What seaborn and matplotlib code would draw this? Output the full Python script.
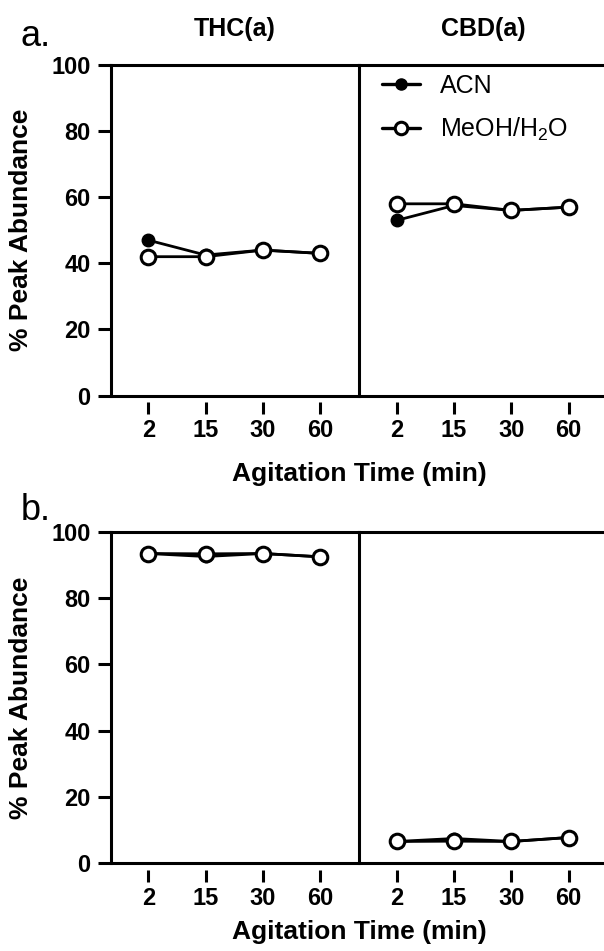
import matplotlib
matplotlib.use("Agg")
import matplotlib.pyplot as plt
import seaborn as sns
import pandas as pd
from matplotlib.lines import Line2D

# ---------------- data ----------------
times = ["2", "15", "30", "60"]
thc_a_acn = [47, 42.5, 44, 43]
thc_a_meoh = [42, 42, 44, 43]
cbd_a_acn = [53, 57.5, 56, 57]
cbd_a_meoh = [58, 58, 56, 57]
thc_b_acn = [93.5, 92.6, 93.5, 92.5]
thc_b_meoh = [93.5, 93.4, 93.5, 92.5]
cbd_b_acn = [6.5, 7.4, 6.5, 7.7]
cbd_b_meoh = [6.5, 6.6, 6.5, 7.7]
yticks = [0, 20, 40, 60, 80, 100]
panel_titles = ["THC(a)", "CBD(a)"]
solvent_labels = ["ACN", "MeOH/H$_\\mathregular{2}$O"]
panel_letters = ["a.", "b."]
xlabel = "Agitation Time (min)"
ylabel = "% Peak Abundance"

sns.set_style("white")
plt.rcParams["font.family"] = ["Liberation Sans", "DejaVu Sans"]
plt.rcParams["mathtext.fontset"] = "custom"
plt.rcParams["mathtext.rm"] = "Liberation Sans"
for k in ["text.color", "axes.labelcolor", "xtick.color", "ytick.color",
          "axes.edgecolor"]:
    plt.rcParams[k] = "black"

W, H = 604, 951
fig = plt.figure(figsize=(W / 100, H / 100), dpi=100)

LW_SPINE = 2.2
AX_W = 248.5
LW_DATA = 2.0
MS_OPEN = 10.5
MS_FILL = 9


def fx(px):
    return px / W


def fy(px):
    return 1 - px / H


def draw(ax, acn, meoh):
    df_acn = pd.DataFrame({"time": times, "value": acn})
    df_meoh = pd.DataFrame({"time": times, "value": meoh})
    sns.lineplot(data=df_acn, x="time", y="value", ax=ax, sort=False,
                 color="black", lw=LW_DATA, marker="o", ms=MS_FILL, mfc="black",
                 mec="black", mew=1, legend=False, zorder=3)
    sns.lineplot(data=df_meoh, x="time", y="value", ax=ax, sort=False,
                 color="black", lw=LW_DATA, marker="o", ms=MS_OPEN, mfc="white",
                 mec="black", mew=2.2, legend=False, zorder=4)
    ax.set_xticks(range(len(times)))
    ax.set_xticklabels(times)
    ax.set_xlim(-0.66, 3.68)
    ax.set_ylim(0, 100)
    ax.set_yticks(yticks)
    for s in ["top", "left"]:
        ax.spines[s].set_visible(True)
        ax.spines[s].set_linewidth(LW_SPINE)
        ax.spines[s].set_color("black")
    ax.spines["right"].set_visible(False)
    ax.spines["bottom"].set_position(("outward", 5))
    ax.spines["bottom"].set_visible(False)
    ax.axhline(0, color="black", lw=LW_SPINE, clip_on=False, zorder=5)
    ax.tick_params(axis="x", direction="out", length=8.6, width=LW_SPINE,
                   pad=3.5, labelsize=17, color="black", bottom=True)
    ax.tick_params(axis="y", direction="out", length=9.4, width=LW_SPINE,
                   pad=5, labelsize=17, color="black", left=True)
    for lab in ax.get_xticklabels() + ax.get_yticklabels():
        lab.set_fontweight("bold")
    ax.set_xlabel("")
    ax.set_ylabel("")


panels = [
    (65, 395.5, 474, 46, thc_a_acn, thc_a_meoh, cbd_a_acn, cbd_a_meoh),
    (532, 863, 932, 520, thc_b_acn, thc_b_meoh, cbd_b_acn, cbd_b_meoh),
]

for i, (top, bot, xl_y, let_y, l_acn, l_meoh, r_acn, r_meoh) in enumerate(panels):
    h = (bot - top) / H
    axl = fig.add_axes([fx(110.5), fy(bot), AX_W / W, h])
    axr = fig.add_axes([fx(359), fy(bot), AX_W / W, h], sharey=axl)
    draw(axl, l_acn, l_meoh)
    draw(axr, r_acn, r_meoh)
    axr.tick_params(axis="y", left=False, labelleft=False)

    axl.set_ylabel(ylabel, fontsize=19, fontweight="bold")
    axl.yaxis.set_label_coords(-0.312, 0.5)

    # x label centered under the pair of axes
    fig.text(fx(359), fy(xl_y), xlabel, ha="center", va="center",
             fontsize=19, fontweight="bold")

    fig.text(fx(21), fy(let_y), panel_letters[i], ha="left",
             va="baseline", fontsize=26)

    if i == 0:
        axl.set_title(panel_titles[0], fontsize=18, fontweight="bold", pad=21)
        axr.set_title(panel_titles[1], fontsize=18, fontweight="bold", pad=21)
        handles = [
            Line2D([], [], color="black", lw=LW_DATA + 0.4, marker="o", ms=8,
                   mfc="black", mec="black", mew=1),
            Line2D([], [], color="black", lw=LW_DATA + 0.4, marker="o", ms=9,
                   mfc="white", mec="black", mew=2.2),
        ]
        axr.legend(handles, solvent_labels, loc="upper left",
                   bbox_to_anchor=(0.0926, 0.973), frameon=False,
                   fontsize=18, handlelength=1.5, handletextpad=0.8,
                   labelspacing=0.7, borderaxespad=0, borderpad=0)

fig.savefig("out.png", dpi=100)
